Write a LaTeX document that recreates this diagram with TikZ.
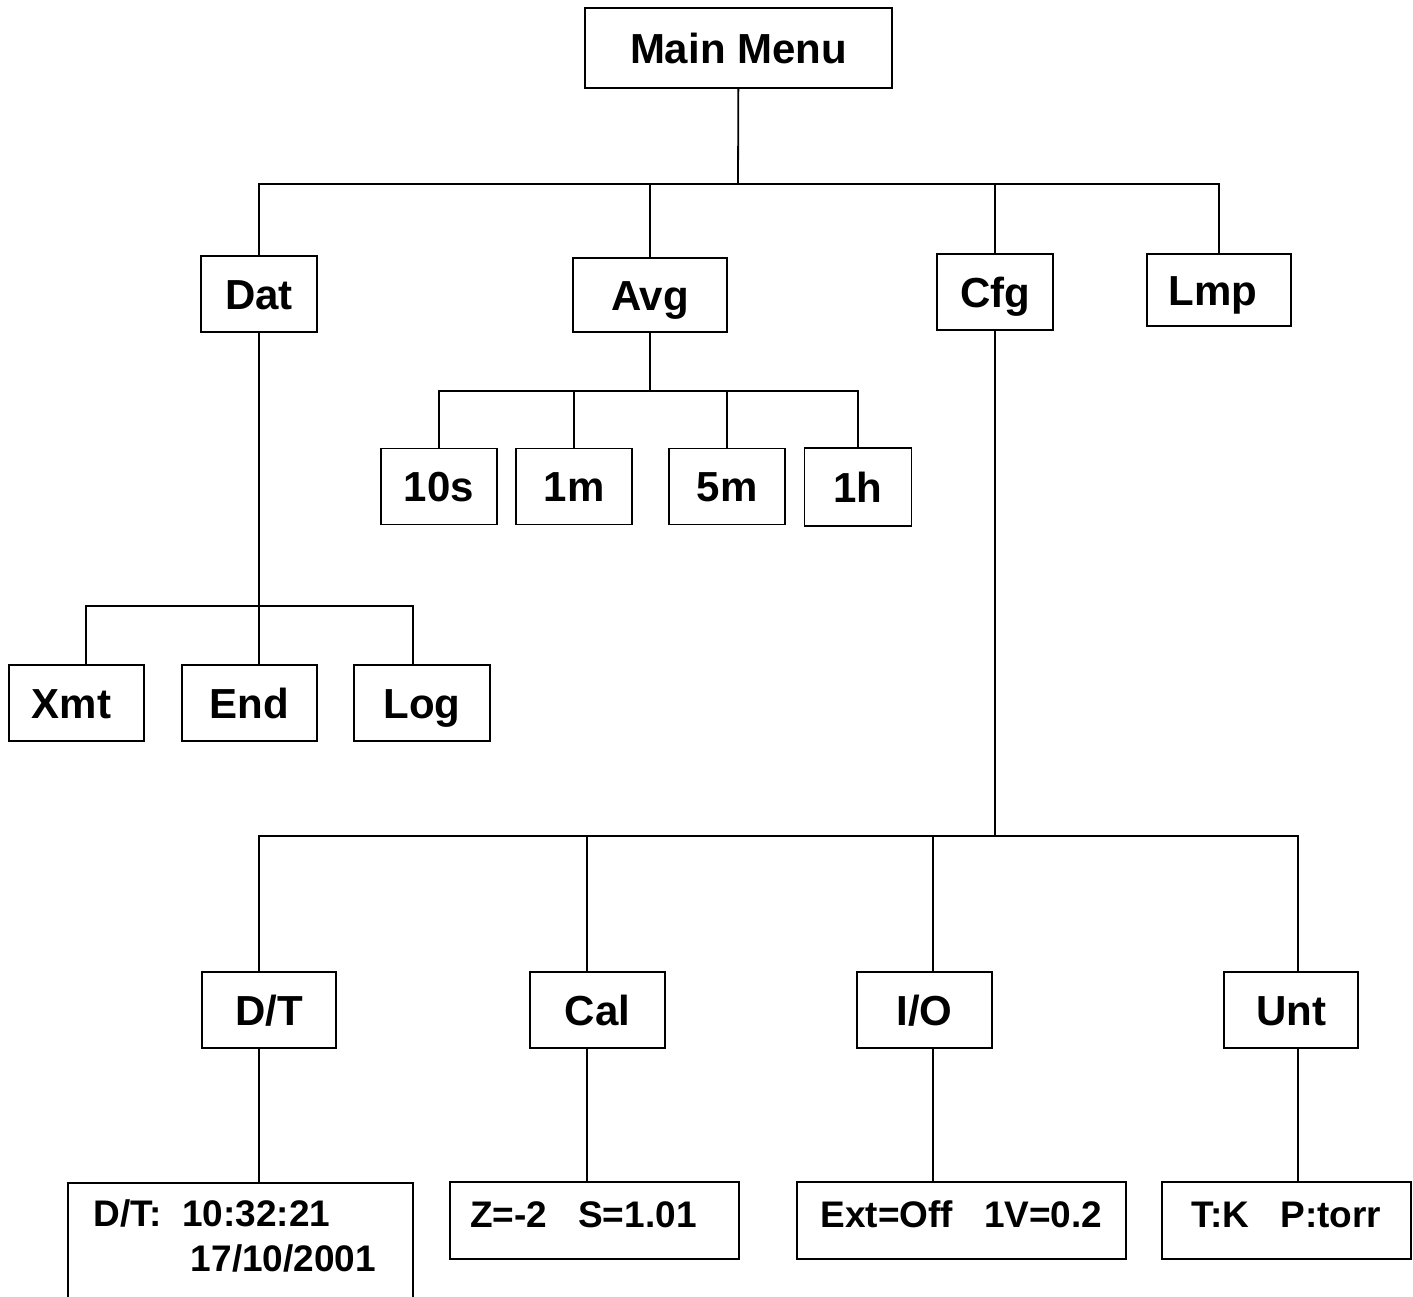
\documentclass[tikz,border=0pt]{standalone}
\usepackage{fontspec}
\setmainfont{Liberation Sans}
\begin{document}
\begin{tikzpicture}[x=1pt, y=-1pt, line width=1.8pt,
  menu_node/.style={draw, font=\fontsize{42}{48}\selectfont\bfseries, minimum width=116pt, minimum height=76pt, inner sep=0pt, text height=30pt, text depth=0pt},
  value_node/.style={draw, font=\fontsize{37}{45}\selectfont\bfseries, minimum height=77pt, inner sep=0pt, text height=27pt, text depth=13pt}]

  \useasboundingbox (0,0) rectangle (1413,1296);

  \node[menu_node, minimum width=307pt, minimum height=80pt] (main) at (738.5,48) {Main Menu};

  \node[menu_node] (dat) at (259,294) {Dat};
  \node[menu_node, minimum width=154pt, minimum height=74pt] (avg) at (650,295) {Avg};
  \node[menu_node] (cfg) at (995,292) {Cfg};
  \node[menu_node, minimum width=144pt, minimum height=72pt] (lmp) at (1219,290) {Lmp\hspace*{12pt}};

  \node[menu_node] (s10) at (439,486.5) {10s};
  \node[menu_node] (m1) at (574,486.5) {1m};
  \node[menu_node] (m5) at (727,486.5) {5m};
  \node[menu_node, minimum width=107pt, minimum height=78pt] (h1) at (858,487) {1h};

  \node[menu_node, minimum width=135pt] (xmt) at (76.5,703) {Xmt\hspace*{10pt}};
  \node[menu_node, minimum width=135pt] (end) at (249.5,703) {End};
  \node[menu_node, minimum width=136pt] (log) at (422,703) {Log};

  \node[menu_node, minimum width=134pt] (dt) at (269,1010) {D/T};
  \node[menu_node, minimum width=135pt] (cal) at (597.5,1010) {Cal};
  \node[menu_node, minimum width=135pt] (io) at (924.5,1010) {I/O};
  \node[menu_node, minimum width=134pt] (unt) at (1291,1010) {Unt};

  \node[value_node, anchor=north west, minimum height=0pt, text height=, text depth=] (dtval) at (67,1182)
    {\parbox[c][140pt][t]{345pt}{\vspace*{17pt}\hspace*{26pt}D/T:\ \ 10:32:21\\\hspace*{123pt}17/10/2001}};
  \node[value_node, minimum width=289pt] (calval) at (594.5,1220.5) {Z=-2\ \ \ S=1.01\hspace*{22pt}};
  \node[value_node, minimum width=329pt] (ioval) at (961.5,1220.5) {Ext=Off\ \ \ 1V=0.2};
  \node[value_node, minimum width=249pt] (untval) at (1286.5,1220.5) {T:K\ \ \ P:torr};

  % bus points
  \coordinate (main_bus) at (738,184);
  \coordinate (avg_bus) at (650,391);
  \coordinate (dat_bus) at (259,606);
  \coordinate (cfg_bus) at (995,836);

  \draw (main) -- (main_bus);
  \foreach \nd in {dat,avg,cfg,lmp}
    \draw (\nd.north) |- (main_bus);

  \draw (avg) -- (avg_bus);
  \foreach \nd in {s10,m1,m5,h1}
    \draw (\nd.north) |- (avg_bus);

  \draw (dat) -- (dat |- end.north);
  \foreach \nd/\x in {xmt/86,log/413} {
    \coordinate (drop) at (\x,606);
    \draw (drop |- \nd.north) |- (dat_bus);
  }

  \draw (cfg) -- (cfg_bus);
  \foreach \nd/\val/\x in {dt/dtval/259,cal/calval/587,io/ioval/933,unt/untval/1298} {
    \coordinate (drop) at (\x,836);
    \draw (drop |- \nd.north) |- (cfg_bus);
    \draw (drop |- \nd.south) -- (drop |- \val.north);
  }
\end{tikzpicture}
\end{document}
